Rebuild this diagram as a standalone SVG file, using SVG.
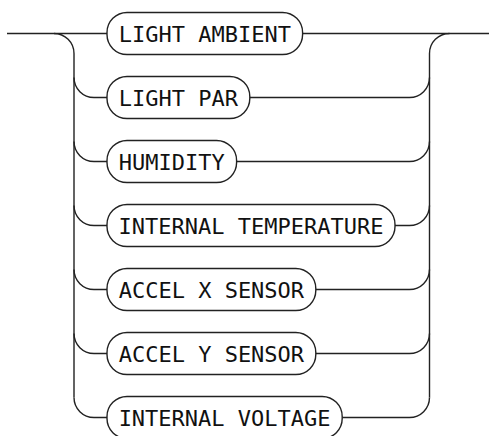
<svg xmlns="http://www.w3.org/2000/svg" width="489" height="436" viewBox="0 0 489 436">
<style>
.ln{fill:none;stroke:#222;stroke-width:1.4}
.bx{fill:#fff;stroke:#222;stroke-width:1.4}
.tx{font-family:"DejaVu Sans Mono","Liberation Mono",monospace;font-size:22px;fill:#111;text-anchor:middle}
</style>
<rect width="489" height="436" fill="#fff"/>
<g id="connectors" class="ln">
<path d="M7 33.5H107M302.6 33.5H489"/>
<path d="M54 33.5A20 20 0 0 1 74 53.5V397.5"/>
<path d="M429.5 397.5V53.5A20 20 0 0 1 449.5 33.5"/>
<path d="M74 77.5A20 20 0 0 0 94 97.5H107M249.8 97.5H409.5A20 20 0 0 0 429.5 77.5"/>
<path d="M74 141.5A20 20 0 0 0 94 161.5H107M236.6 161.5H409.5A20 20 0 0 0 429.5 141.5"/>
<path d="M74 205.5A20 20 0 0 0 94 225.5H107M395 225.5H409.5A20 20 0 0 0 429.5 205.5"/>
<path d="M74 269.5A20 20 0 0 0 94 289.5H107M315.8 289.5H409.5A20 20 0 0 0 429.5 269.5"/>
<path d="M74 333.5A20 20 0 0 0 94 353.5H107M315.8 353.5H409.5A20 20 0 0 0 429.5 333.5"/>
<path d="M74 397.5A20 20 0 0 0 94 417.5H107M342.2 417.5H409.5A20 20 0 0 0 429.5 397.5"/>
</g>
<g id="n1"><rect class="bx" x="107" y="12.5" width="195.6" height="42" rx="20"/><text class="tx" x="204.8" y="42">LIGHT AMBIENT</text></g>
<g id="n2"><rect class="bx" x="107" y="76.5" width="142.8" height="42" rx="20"/><text class="tx" x="178.4" y="106">LIGHT PAR</text></g>
<g id="n3"><rect class="bx" x="107" y="140.5" width="129.6" height="42" rx="20"/><text class="tx" x="171.8" y="170">HUMIDITY</text></g>
<g id="n4"><rect class="bx" x="107" y="204.5" width="288" height="42" rx="20"/><text class="tx" x="251" y="234">INTERNAL TEMPERATURE</text></g>
<g id="n5"><rect class="bx" x="107" y="268.5" width="208.8" height="42" rx="20"/><text class="tx" x="211.4" y="298">ACCEL X SENSOR</text></g>
<g id="n6"><rect class="bx" x="107" y="332.5" width="208.8" height="42" rx="20"/><text class="tx" x="211.4" y="362">ACCEL Y SENSOR</text></g>
<g id="n7"><rect class="bx" x="107" y="396.5" width="235.2" height="42" rx="20"/><text class="tx" x="224.6" y="426">INTERNAL VOLTAGE</text></g>
</svg>
